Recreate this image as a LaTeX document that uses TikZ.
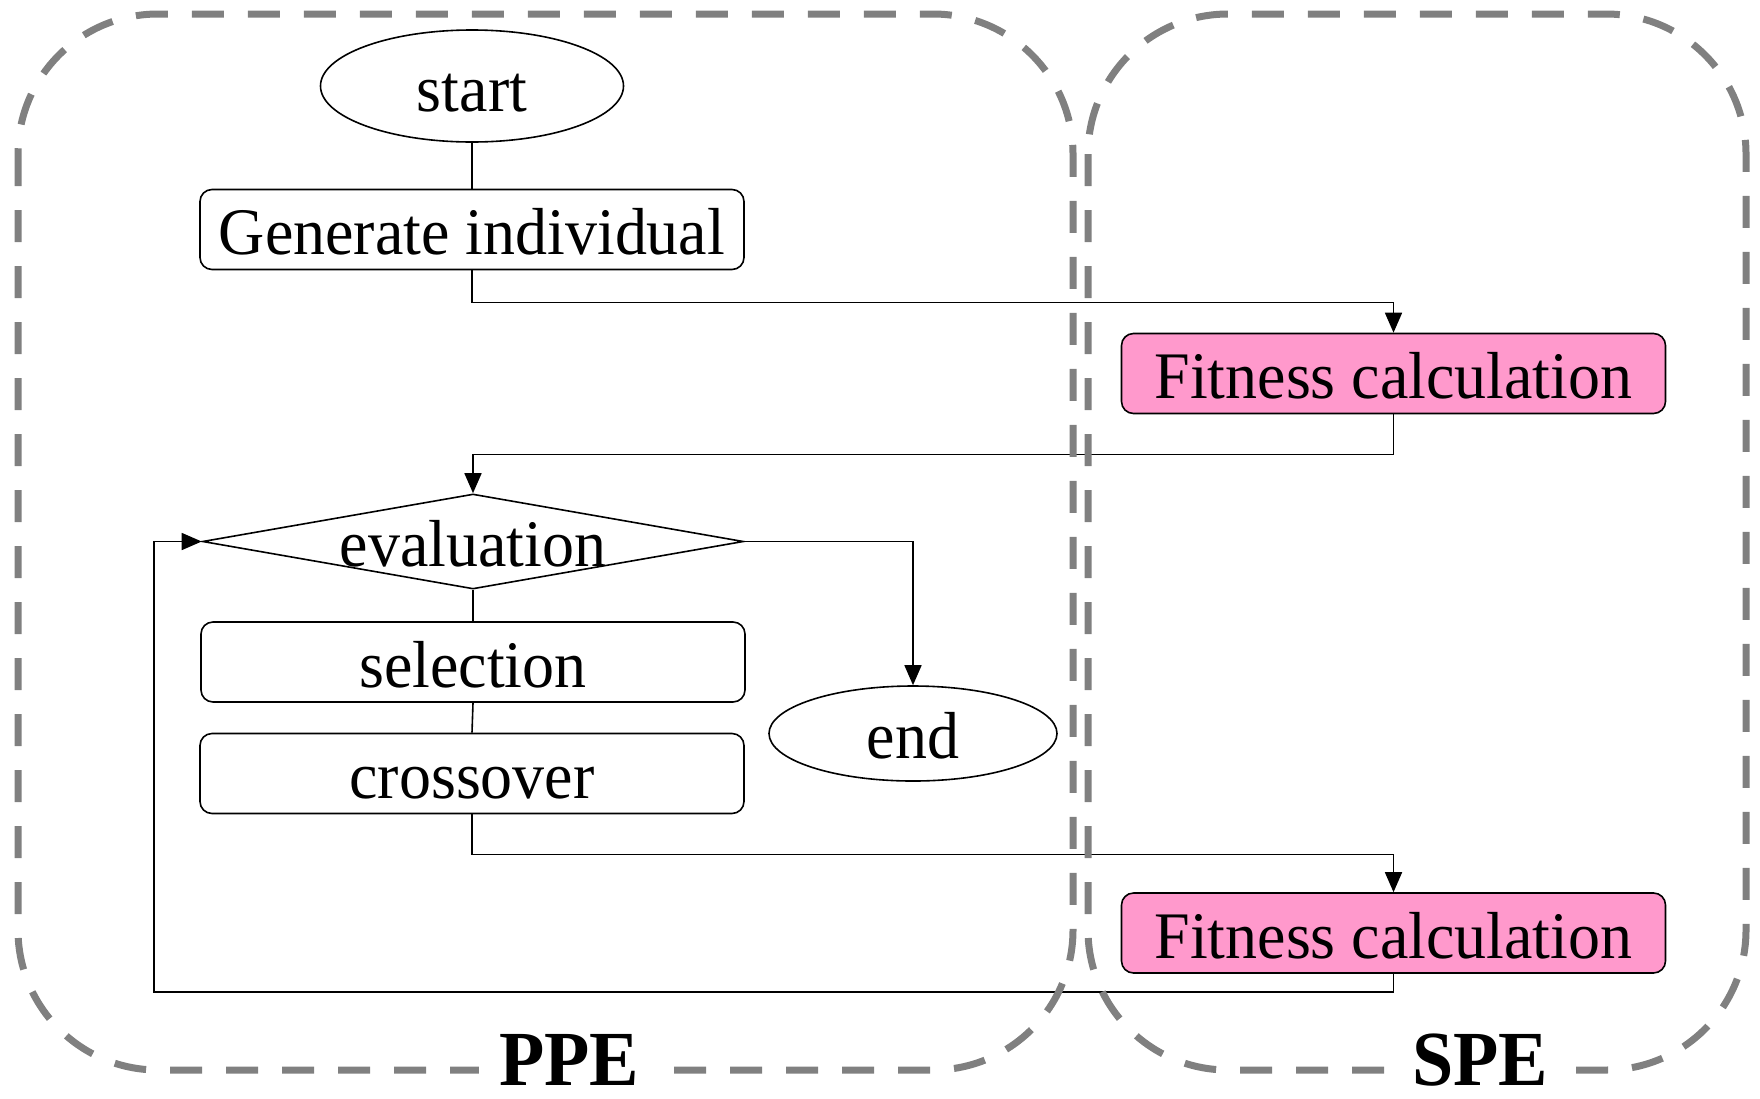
\documentclass[tikz,border=0pt]{standalone}
\usepackage{fontspec}
\setmainfont{Liberation Serif}
\usetikzlibrary{shapes.geometric,arrows.meta,calc}

\definecolor{zonegray}{RGB}{128,128,128}
\definecolor{fitpink}{RGB}{255,153,204}

% slightly condensed, tall serif faces
\newfontfamily\flowfont[FakeStretch=0.962]{Liberation Serif}
\newfontfamily\zonefont[FakeStretch=0.95]{Liberation Serif Bold}

\tikzset{
  every node/.style={font=\flowfont\fontsize{66.5}{76}\selectfont,
    inner sep=0pt, text height=50pt, text depth=0pt},
  flowline/.style={line width=1.6pt, black},
  arr/.style={flowline, -{Triangle[length=20pt,width=17pt]}},
  procbox/.style={draw, line width=1.6pt, rounded corners=12pt,
    minimum width=544pt, minimum height=80pt},
  fitbox/.style={procbox, fill=fitpink},
  terminal/.style={draw, ellipse, line width=1.6pt},
  decision/.style={draw, diamond, line width=1.6pt,
    minimum width=541pt, minimum height=95pt},
  zone/.style={draw=zonegray, line width=7pt, rounded corners=140pt,
    dash pattern=on 32pt off 24pt},
  zonelabel/.style={font=\zonefont\fontsize{78}{84}\selectfont,
    fill=white, inner xsep=20pt, inner ysep=4pt, anchor=base,
    text height=54pt, text depth=2pt}
}

\begin{document}
\begin{tikzpicture}[x=1pt, y=-1pt]
  \useasboundingbox (0,0) rectangle (1760,1098);

  % flow nodes
  \node[terminal, minimum width=303pt, minimum height=112pt] (start) at (472,86) {start};
  \node[procbox] (gen) at (472,229.5) {Generate individual};
  \node[fitbox] (fit1) at (1393.5,373.5) {Fitness calculation};
  \node[decision] (eval) at (473,541.5) {};
  \node (evaltxt) at (473,541.5) {evaluation};
  \node[procbox] (sel) at (473,662) {selection};
  \node[procbox] (cross) at (472,773.5) {crossover};
  \node[terminal, minimum width=288pt, minimum height=95pt] (end) at (913,733.5) {end};
  \node[fitbox] (fit2) at (1393.5,933) {Fitness calculation};
  \coordinate (loopc) at (154,992);

  % connectors
  \draw[flowline] (start) -- (gen);
  \draw[arr] (gen.south) -- ++(0,32) -| (fit1.north);
  \draw[arr] (fit1.south) -- ++(0,40) -| (eval.north);
  \draw[flowline] (eval.south) -- (sel.north);
  \draw[flowline] (sel.south) -- (cross.north);
  \draw[arr] (eval.east) -| (end.north);
  \draw[arr] (cross.south) -- ++(0,40) -| (fit2.north);
  \draw[arr] (fit2.south) |- (loopc) |- (eval.west);

  % processing-element zones
  \draw[zone] (18,14) rectangle (1073,1070);
  \draw[zone] (1088,14) rectangle (1746,1070);

  % zone labels
  \node[zonelabel] (ppe) at (569,1085) {PPE};
  \node[zonelabel] (spe) at (1480,1085) {SPE};
\end{tikzpicture}
\end{document}
